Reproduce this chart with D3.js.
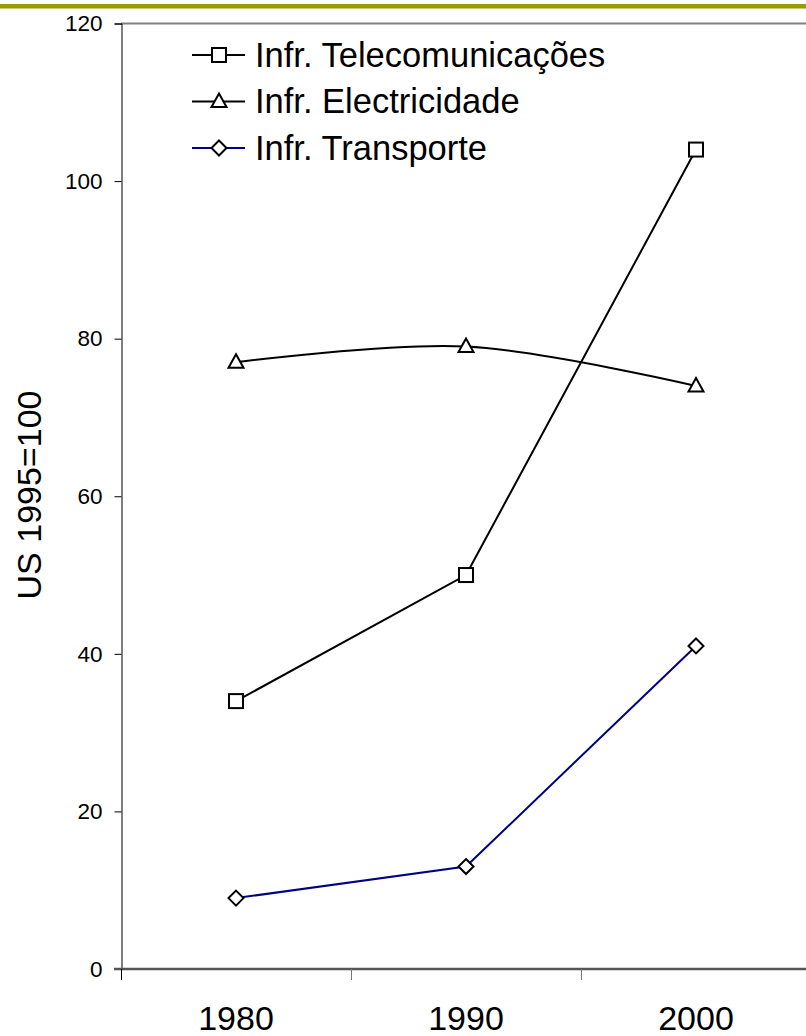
<!DOCTYPE html>
<html>
<head>
<meta charset="utf-8">
<script src="https://cdn.jsdelivr.net/npm/d3@7"></script>
<style>
  body { margin: 0; background: #fff; }
  svg { display: block; }
  svg text { font-family: "Liberation Sans", Arial, sans-serif; fill: #000; }
</style>
</head>
<body>
<svg id="chart" width="806" height="1036"></svg>
<script>
// data
const years = ["1980", "1990", "2000"];
const yTicks = [0, 20, 40, 60, 80, 100, 120];
const telecom = [34, 50, 104];
const electricity = [77, 79, 74];
const transport = [9, 13, 41];

const seriesNames = ["Infr. Telecomunicações", "Infr. Electricidade", "Infr. Transporte"];

const svg = d3.select("#chart");

// top olive bar
svg.append("rect")
  .attr("x", 0).attr("y", 4)
  .attr("width", 806).attr("height", 4.5)
  .attr("fill", "#999900");

// scales
const x = d3.scaleBand().domain(years).range([121, 811]);
const y = d3.scaleLinear().domain([0, 120]).range([969, 23.5]);

// top border of plot
svg.append("line")
  .attr("x1", 121).attr("x2", 811)
  .attr("y1", y(120)).attr("y2", y(120))
  .attr("stroke", "#808080").attr("stroke-width", 2);

// y axis
const yAxis = svg.append("g")
  .attr("transform", "translate(121.5,0)")
  .call(d3.axisLeft(y).tickValues(yTicks).tickSize(7).tickPadding(12));
yAxis.attr("font-family", null);
yAxis.select(".domain").attr("stroke", "#000");
yAxis.selectAll(".tick line").attr("stroke", "#000");
yAxis.selectAll("text")
  .attr("font-size", 22.5);

// x axis (ticks on band edges)
const xAxis = svg.append("g").attr("transform", `translate(0,${y(0)})`);
xAxis.append("line")
  .attr("x1", 114).attr("x2", 811)
  .attr("stroke", "#555").attr("stroke-width", 2.5);
xAxis.selectAll("line.tk")
  .data(years).enter().append("line")
  .attr("class", "tk")
  .attr("x1", d => x(d) + 0.5).attr("x2", d => x(d) + 0.5)
  .attr("y1", 0).attr("y2", 11)
  .attr("stroke", d => d === years[0] ? "#000" : "#777");
xAxis.selectAll("text")
  .data(years).enter().append("text")
  .attr("x", d => x(d) + x.bandwidth() / 2)
  .attr("y", 61)
  .attr("text-anchor", "middle")
  .attr("font-size", 34)
  .text(d => d);

// y axis title
svg.append("text")
  .attr("transform", "translate(41,495) rotate(-90)")
  .attr("text-anchor", "middle")
  .attr("font-size", 34)
  .text("US 1995=100");

// marker shapes
function marker(g, type) {
  if (type === "square") {
    g.append("rect")
      .attr("x", -7).attr("y", -7).attr("width", 14).attr("height", 14);
  } else if (type === "triangle") {
    g.append("path").attr("d", "M0,-8L7.5,5.5L-7.5,5.5Z");
  } else {
    g.append("path").attr("d", "M0,-7.5L7.5,0L0,7.5L-7.5,0Z");
  }
  g.selectAll("rect,path")
    .attr("fill", "#fff").attr("stroke", "#000").attr("stroke-width", 2);
}

const series = [
  { name: seriesNames[0], values: telecom, color: "#000", shape: "square", curve: d3.curveLinear },
  { name: seriesNames[1], values: electricity, color: "#000", shape: "triangle", curve: d3.curveCardinal.tension(0) },
  { name: seriesNames[2], values: transport, color: "#000080", shape: "diamond", curve: d3.curveLinear }
];

series.forEach(s => {
  const pts = s.values.map((v, i) => [x(years[i]) + x.bandwidth() / 2, y(v)]);
  svg.append("path")
    .attr("d", d3.line().curve(s.curve)(pts))
    .attr("fill", "none")
    .attr("stroke", s.color)
    .attr("stroke-width", 2);
  pts.forEach(p => {
    marker(svg.append("g").attr("transform", `translate(${p[0]},${p[1]})`), s.shape);
  });
});

// legend
const legend = svg.append("g").attr("transform", "translate(192,55)");
series.forEach((s, i) => {
  const row = legend.append("g").attr("transform", `translate(0,${i * 46.5})`);
  row.append("line")
    .attr("x1", 0).attr("x2", 53)
    .attr("stroke", s.color).attr("stroke-width", 2);
  marker(row.append("g").attr("transform", "translate(27,0)"), s.shape);
  row.append("text")
    .attr("x", 63).attr("y", 11.5)
    .attr("font-size", 34.5)
    .text(s.name);
});
</script>
</body>
</html>
